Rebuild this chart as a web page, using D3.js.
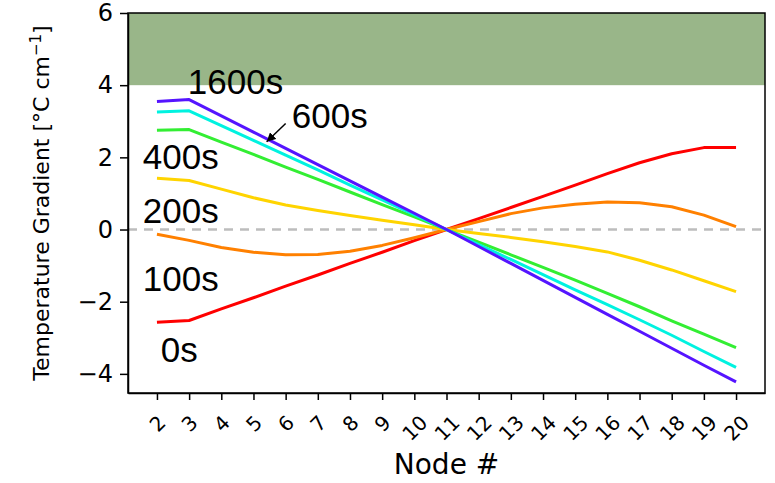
<!DOCTYPE html>
<html>
<head>
<meta charset="utf-8">
<script src="https://cdn.jsdelivr.net/npm/d3@7"></script>
<style>
  body { margin: 0; background: #fff; }
  svg { display: block; }
  .axis text { font-family: 'DejaVu Sans', sans-serif; fill: #000; }
  .axis path, .axis line { stroke: #000; stroke-width: 1.5; }
  .note { font-family: 'Liberation Sans', sans-serif; font-size: 35px; fill: #000; }
</style>
</head>
<body>
<svg id="chart" width="775" height="483"></svg>
<script>
const nodes = d3.range(2, 21)

const times = ['0s', '100s', '200s', '400s', '600s', '1600s']

const colors = ['#ff0000', '#ff8000', '#ffd400', '#33ee33', '#00f2e0', '#5514ff']

const gradient0 = [-2.57, -2.52, -2.2, -1.89, -1.57, -1.26, -0.94, -0.63, -0.31, 0, 0.3, 0.61, 0.92, 1.23, 1.55, 1.85, 2.1, 2.27, 2.27]
const gradient100 = [-0.13, -0.3, -0.5, -0.63, -0.7, -0.69, -0.6, -0.44, -0.23, 0, 0.22, 0.44, 0.6, 0.7, 0.76, 0.74, 0.63, 0.4, 0.08]
const gradient200 = [1.42, 1.36, 1.12, 0.88, 0.68, 0.53, 0.39, 0.26, 0.13, 0, -0.11, -0.22, -0.34, -0.47, -0.62, -0.85, -1.12, -1.42, -1.72]
const gradient400 = [2.75, 2.77, 2.42, 2.08, 1.73, 1.39, 1.04, 0.69, 0.35, 0, -0.35, -0.7, -1.05, -1.4, -1.77, -2.14, -2.53, -2.9, -3.27]
const gradient600 = [3.26, 3.29, 2.88, 2.47, 2.06, 1.65, 1.23, 0.82, 0.41, 0, -0.42, -0.83, -1.25, -1.67, -2.08, -2.5, -2.93, -3.38, -3.82]
const gradient1600 = [3.55, 3.6, 3.15, 2.7, 2.25, 1.8, 1.35, 0.9, 0.45, 0, -0.47, -0.94, -1.41, -1.88, -2.35, -2.82, -3.29, -3.76, -4.22]

const series = [gradient0, gradient100, gradient200, gradient400, gradient600, gradient1600]

const yTicks = [-4, -2, 0, 2, 4, 6]
const band = [4, 6]

// label anchors in data units (node, gradient)
const notes = [
  { text: '1600s', x: 2.96, y: 3.745 },
  { text: '600s', x: 6.19, y: 2.81 },
  { text: '400s', x: 1.56, y: 1.68 },
  { text: '200s', x: 1.56, y: 0.18 },
  { text: '100s', x: 1.56, y: -1.7 },
  { text: '0s', x: 2.12, y: -3.66 }
]
const arrow = { from: [6.0, 2.94], to: [5.41, 2.43] }

const margin = { top: 13, right: 10, bottom: 90, left: 128 }
const width = 775 - margin.left - margin.right
const height = 483 - margin.top - margin.bottom

const svg = d3.select('#chart')
const g = svg.append('g')
    .attr('transform', `translate(${margin.left},${margin.top})`)

const x = d3.scaleLinear().domain([1.1, 20.9]).range([0, width])
const y = d3.scaleLinear().domain([-4.53, 6]).range([height, 0])

const defs = svg.append('defs')
defs.append('clipPath').attr('id', 'clip')
  .append('rect').attr('width', width).attr('height', height)

defs.append('marker')
    .attr('id', 'head')
    .attr('viewBox', '0 0 10 10')
    .attr('refX', 10).attr('refY', 5)
    .attr('markerWidth', 6).attr('markerHeight', 6)
    .attr('markerUnits', 'strokeWidth')
    .attr('orient', 'auto')
  .append('path')
    .attr('d', 'M0,0L10,5L0,10z')
    .attr('fill', '#000')

const plot = g.append('g').attr('clip-path', 'url(#clip)')

plot.append('rect')
    .attr('x', 0)
    .attr('width', width)
    .attr('y', y(band[1]))
    .attr('height', y(band[0]) - y(band[1]))
    .attr('fill', '#99b689')

plot.append('line')
    .attr('x1', 0).attr('x2', width)
    .attr('y1', y(0)).attr('y2', y(0))
    .attr('stroke', '#bdbdbd')
    .attr('stroke-width', 2.5)
    .attr('stroke-dasharray', '9,7')

const line = d3.line()
    .x((d, i) => x(nodes[i]))
    .y(d => y(d))

plot.selectAll('.series')
    .data(series)
  .enter().append('path')
    .attr('class', 'series')
    .attr('fill', 'none')
    .attr('stroke', (d, i) => colors[i])
    .attr('stroke-width', 3)
    .attr('stroke-linejoin', 'round')
    .attr('d', line)

const yAxis = d3.axisLeft(y)
    .tickValues(yTicks)
    .tickSize(8)
    .tickSizeOuter(0)
    .tickPadding(7)
    .tickFormat(d => d < 0 ? '\u2212' + Math.abs(d) : d)

g.append('g')
    .attr('class', 'y axis')
    .call(yAxis)
    .selectAll('text')
    .style('font-size', '24px')

const xAxis = d3.axisBottom(x)
    .tickValues(nodes)
    .tickSize(7)
    .tickSizeOuter(0)

const xg = g.append('g')
    .attr('class', 'x axis')
    .attr('transform', `translate(0,${height})`)
    .call(xAxis)

xg.selectAll('text')
    .style('font-size', '20px')
    .attr('y', null)
    .attr('dy', null)
    .attr('dominant-baseline', 'central')
    .attr('text-anchor', 'middle')
    .attr('transform', d => {
      const len = String(d).length * 0.636 * 20
      const box = (len + 23) / Math.SQRT2
      return `translate(0,${18 + box / 2}) rotate(-45)`
    })

g.append('rect')
    .attr('width', width)
    .attr('height', height)
    .attr('fill', 'none')
    .attr('stroke', '#000')
    .attr('stroke-width', 1.5)

g.selectAll('.note')
    .data(notes)
  .enter().append('text')
    .attr('class', 'note')
    .attr('x', d => x(d.x))
    .attr('y', d => y(d.y))
    .text(d => d.text)

g.append('line')
    .attr('x1', x(arrow.from[0]))
    .attr('y1', y(arrow.from[1]))
    .attr('x2', x(arrow.to[0]))
    .attr('y2', y(arrow.to[1]))
    .attr('stroke', '#000')
    .attr('stroke-width', 1.5)
    .attr('marker-end', 'url(#head)')

g.append('text')
    .attr('x', width / 2)
    .attr('y', height + 81)
    .attr('text-anchor', 'middle')
    .style('font-family', "'DejaVu Sans', sans-serif")
    .style('font-size', '28px')
    .text('Node #')

const yl = g.append('text')
    .attr('transform', `translate(${-79},${height / 2}) rotate(-90)`)
    .attr('text-anchor', 'middle')
    .style('font-family', "'DejaVu Sans', sans-serif")
    .style('font-size', '22px')
yl.append('tspan').text('Temperature Gradient [\u00b0C cm')
yl.append('tspan').attr('dy', -8).style('font-size', '15px').text('\u22121')
yl.append('tspan').attr('dy', 8).text(']')
</script>
</body>
</html>
